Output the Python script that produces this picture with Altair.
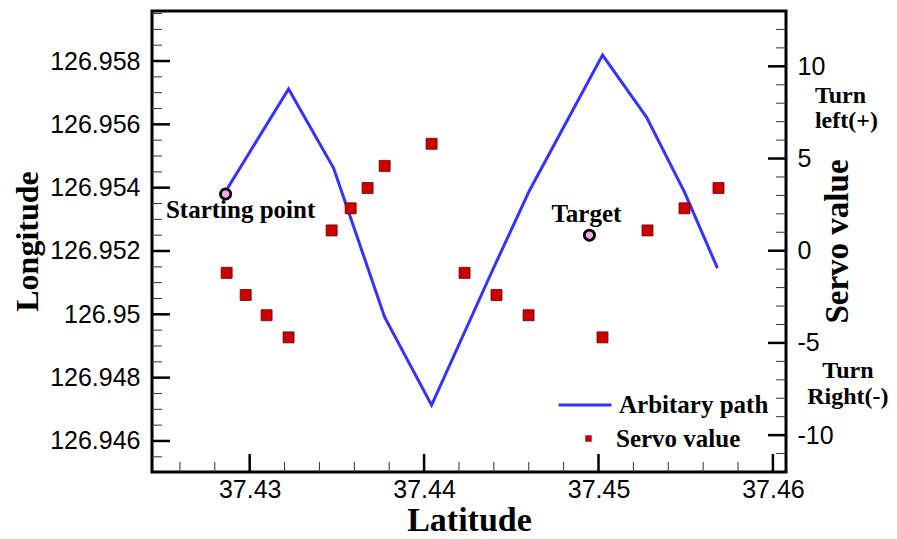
import altair as alt
import pandas as pd

# ---------------- data ----------------
path_lat = [37.42874, 37.43223, 37.43481, 37.43774, 37.44043, 37.44393, 37.44605,
            37.45023, 37.45275, 37.45493, 37.45682]
path_lon = [126.95399, 126.95712, 126.95462, 126.94991, 126.94713, 126.95140, 126.95392,
            126.95819, 126.95623, 126.95386, 126.95146]

servo_lat = [37.42868, 37.42977, 37.43097, 37.43223, 37.43470, 37.43579, 37.43676, 37.43774,
             37.44043, 37.44232, 37.44415, 37.44599, 37.45023, 37.45281, 37.45493, 37.45688]
servo_val = [-1.2, -2.4, -3.5, -4.7, 1.1, 2.3, 3.4, 4.6,
             5.8, -1.2, -2.4, -3.5, -4.7, 1.1, 2.3, 3.4]

marker_lat = [37.42862, 37.44948]
marker_lon = [126.95380, 126.95250]
marker_label = ["Starting point", "Target"]

turn_lat = [37.46241, 37.46430]
turn_servo = [8.02, -6.88]
turn_text = ["Turn\nleft(+)", "Turn\nRight(-)"]

series_names = ["Arbitary path", "Servo value"]

lat_major = [37.43, 37.44, 37.45, 37.46]
lat_minor = [round(37.426 + 0.002 * i, 3) for i in range(18)]
lon_major = [126.946, 126.948, 126.950, 126.952, 126.954, 126.956, 126.958]
lon_minor = [round(126.9455 + 0.0005 * i, 4) for i in range(29)]
servo_major = [-10, -5, 0, 5, 10]
servo_minor = list(range(-11, 13))

# ---------------- frames ----------------
path_df = pd.DataFrame({"lat": path_lat, "lon": path_lon,
                        "order": list(range(len(path_lat))), "series": series_names[0]})
servo_df = pd.DataFrame({"lat": servo_lat, "servo": servo_val, "series": series_names[1]})
marker_df = pd.DataFrame({"lat": marker_lat, "lon": marker_lon, "label": marker_label})
turn_df = pd.DataFrame({"lat": turn_lat, "servo": turn_servo, "label": turn_text})

W, H = 634, 461
SANS = "Liberation Sans"
SERIF = "Liberation Serif"
BLUE = "#3333ff"
RED = "#cc0000"

xs = alt.Scale(domain=[37.4244, 37.46075], nice=False, zero=False)
lon_s = alt.Scale(domain=[126.94502, 126.95958], nice=False, zero=False)
servo_s = alt.Scale(domain=[-12, 13], nice=False, zero=False)

x_axis = alt.Axis(values=lat_major, format=".2f", ticks=False, domain=False, grid=False,
                  labelFont=SANS, labelFontSize=25, labelColor="black", labelPadding=5,
                  title="Latitude", titleFont=SERIF, titleFontSize=34, titleFontWeight="bold",
                  titleColor="black", titleY=58, titleBaseline="alphabetic")
lon_axis = alt.Axis(orient="left", values=lon_major, format="~f", ticks=False, domain=False,
                    grid=False, labelFont=SANS, labelFontSize=25, labelColor="black",
                    labelPadding=12, title="Longitude", titleFont=SERIF, titleFontSize=32,
                    titleFontWeight="bold", titleColor="black", titleAngle=270, titleX=-115,
                    titleY=230, titleBaseline="alphabetic", titleAlign="center")
servo_axis = alt.Axis(orient="right", values=servo_major, labelExpr="'' + datum.value",
                      ticks=False, domain=False, grid=False, labelFont=SANS, labelFontSize=25,
                      labelColor="black", labelPadding=11, title="Servo value",
                      titleFont=SERIF, titleFontSize=33, titleFontWeight="bold",
                      titleColor="black", titleAngle=270, titleX=61, titleY=230,
                      titleBaseline="alphabetic", titleAlign="center")

X = alt.X("lat:Q", scale=xs, axis=x_axis)
Ylon = alt.Y("lon:Q", scale=lon_s, axis=lon_axis)
Yservo = alt.Y("servo:Q", scale=servo_s, axis=servo_axis)

legend_common = dict(orient="none", title=None, padding=0, labelFont=SERIF, labelFontSize=25,
                     labelFontWeight="bold", labelColor="black", labelBaseline="middle")
line_legend = alt.Legend(legendX=405, legendY=366, symbolType="stroke", symbolSize=2809,
                         symbolStrokeWidth=3, labelOffset=6, **legend_common)
square_legend = alt.Legend(legendX=424, legendY=415, symbolType="square", symbolSize=42,
                           symbolStrokeWidth=0, symbolOpacity=1, labelOffset=15,
                           **legend_common)

line_color = alt.Color("series:N", scale=alt.Scale(domain=series_names[:1], range=[BLUE]),
                       legend=line_legend)
square_color = alt.Color("series:N", scale=alt.Scale(domain=series_names[1:], range=[RED]),
                         legend=square_legend)

# ---------------- group A: longitude scale ----------------
line = alt.Chart(path_df).mark_line(strokeWidth=3).encode(
    x=X, y=Ylon, order="order:Q", color=line_color)

markers = alt.Chart(marker_df).mark_point(
    shape="circle", filled=True, fill="#f2a6ee", stroke="black", strokeWidth=2.8,
    size=105, opacity=1).encode(x=X, y=Ylon)

start_lbl = alt.Chart(marker_df).transform_filter(
    "datum.label === 'Starting point'").mark_text(
    font=SERIF, fontSize=25, fontWeight="bold", color="black", align="center",
    baseline="alphabetic", dx=15, dy=24).encode(x=X, y=Ylon, text="label:N")

target_lbl = alt.Chart(marker_df).transform_filter(
    "datum.label === 'Target'").mark_text(
    font=SERIF, fontSize=25, fontWeight="bold", color="black", align="center",
    baseline="alphabetic", dx=-3, dy=-13).encode(x=X, y=Ylon, text="label:N")

lon_major_df = pd.DataFrame({"lon": lon_major})
lon_minor_df = pd.DataFrame({"lon": lon_minor})
left_major = alt.Chart(lon_major_df).mark_rule(color="black", strokeWidth=2.5).encode(
    y=Ylon, x=alt.value(0), x2=alt.value(18))
left_minor = alt.Chart(lon_minor_df).mark_rule(color="#333333", strokeWidth=1).encode(
    y=Ylon, x=alt.value(0), x2=alt.value(10))

lat_major_df = pd.DataFrame({"lat": lat_major})
lat_minor_df = pd.DataFrame({"lat": lat_minor})
bottom_major = alt.Chart(lat_major_df).mark_rule(color="black", strokeWidth=2.5).encode(
    x=X, y=alt.value(H), y2=alt.value(H - 18))
bottom_minor = alt.Chart(lat_minor_df).mark_rule(color="#333333", strokeWidth=1).encode(
    x=X, y=alt.value(H), y2=alt.value(H - 10))

group_a = alt.layer(left_minor, left_major, bottom_minor, bottom_major,
                    line, markers, start_lbl, target_lbl)

# ---------------- group B: servo scale ----------------
squares = alt.Chart(servo_df).mark_square(
    size=121, stroke="#6e0000", strokeWidth=0.8, opacity=1).encode(
    x=X, y=Yservo, color=square_color)

servo_major_df = pd.DataFrame({"servo": servo_major})
servo_minor_df = pd.DataFrame({"servo": servo_minor})
right_major = alt.Chart(servo_major_df).mark_rule(color="black", strokeWidth=2.5).encode(
    y=Yservo, x=alt.value(W), x2=alt.value(W - 18))
right_minor = alt.Chart(servo_minor_df).mark_rule(color="#333333", strokeWidth=1).encode(
    y=Yservo, x=alt.value(W), x2=alt.value(W - 10))

turn_left = alt.Chart(turn_df).transform_filter("indexof(datum.label, 'left') >= 0").mark_text(
    font=SERIF, fontSize=24, fontWeight="bold", color="black", align="left",
    baseline="alphabetic", lineBreak="\n", lineHeight=25).encode(x=X, y=Yservo, text="label:N")
turn_right = alt.Chart(turn_df).transform_filter("indexof(datum.label, 'Right') >= 0").mark_text(
    font=SERIF, fontSize=24, fontWeight="bold", color="black", align="center",
    baseline="alphabetic", lineBreak="\n", lineHeight=26).encode(x=X, y=Yservo, text="label:N")

group_b = alt.layer(right_minor, right_major, squares, turn_left, turn_right)

chart = alt.layer(group_a, group_b).resolve_scale(
    y="independent", color="independent").properties(
    width=W, height=H,
    background="white",
    autosize=alt.AutoSizeParams(type="none"),
    padding={"left": 144, "top": 3, "right": 103, "bottom": 66},
).configure_view(stroke="black", strokeWidth=3)

chart.save("out.html", embed_options={"renderer": "svg", "actions": False})
